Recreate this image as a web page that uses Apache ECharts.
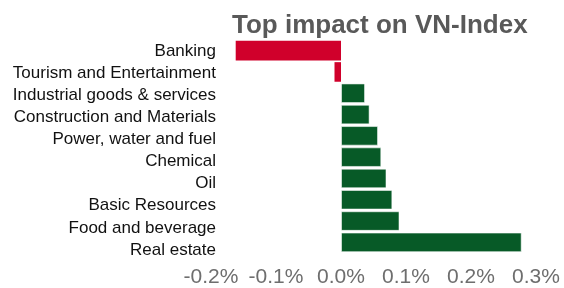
<!DOCTYPE html>
<html>
<head>
<meta charset="utf-8">
<script src="https://cdn.jsdelivr.net/npm/echarts@6/dist/echarts.min.js"></script>
<style>
    html, body { margin: 0; padding: 0; background: #fff; }
    #chart { width: 564px; height: 288px; }
</style>
</head>
<body>
<div id="chart"></div>
<script>
const sectors = [
    "Banking",
    "Tourism and Entertainment",
    "Industrial goods & services",
    "Construction and Materials",
    "Power, water and fuel",
    "Chemical",
    "Oil",
    "Basic Resources",
    "Food and beverage",
    "Real estate"
];
// impact on the index, in percent
const impact = [-0.162, -0.010, 0.037, 0.044, 0.057, 0.062, 0.070, 0.079, 0.090, 0.278];

const axisMin = -0.2;
const axisMax = 0.3;
const axisStep = 0.1;

const fontFamily = "Liberation Sans, Arial, sans-serif";

function renderChart() {
    const chart = echarts.init(document.getElementById("chart"));
    chart.setOption({
        animation: false,
        title: {
            text: "Top impact on VN-Index",
            left: 227,
            top: 8,
            textStyle: { fontFamily, fontSize: 26, fontWeight: "bold", color: "#595959" }
        },
        // bars sit in the first grid, the sector names are spaced a touch wider in the original
        grid: [
            { left: 211, right: 28, top: 40, bottom: 34, containLabel: false },
            { left: 211, right: 28, top: 40, bottom: 27, containLabel: false }
        ],
        xAxis: [
            {
                type: "value",
                gridIndex: 0,
                min: axisMin,
                max: axisMax,
                interval: axisStep,
                splitLine: { show: false },
                axisLine: { show: false },
                axisTick: { show: false },
                axisLabel: {
                    margin: 14,
                    fontFamily,
                    fontSize: 21,
                    color: "#6e6e6e",
                    formatter: (v) => v.toFixed(1) + "%"
                }
            },
            { type: "value", gridIndex: 1, show: false, min: axisMin, max: axisMax }
        ],
        yAxis: [
            {
                type: "category",
                gridIndex: 0,
                data: sectors,
                inverse: true,
                axisLine: { show: false },
                axisTick: { show: false },
                splitLine: { show: false },
                axisLabel: { show: false }
            },
            {
                type: "category",
                gridIndex: 1,
                data: sectors,
                inverse: true,
                axisLine: { show: false },
                axisTick: { show: false },
                splitLine: { show: false },
                axisLabel: { interval: 0, margin: -5, fontFamily, fontSize: 17, color: "#111" }
            }
        ],
        series: [{
            type: "bar",
            xAxisIndex: 0,
            yAxisIndex: 0,
            barCategoryGap: "8%",
            data: impact.map((v) => ({
                value: v,
                itemStyle: v < 0
                    ? { color: "#d0002b" }
                    : { color: "#075a27", borderColor: "rgba(255,255,255,0.55)", borderWidth: 1 }
            }))
        }]
    });
}

window.addEventListener("load", renderChart);
</script>
</body>
</html>
